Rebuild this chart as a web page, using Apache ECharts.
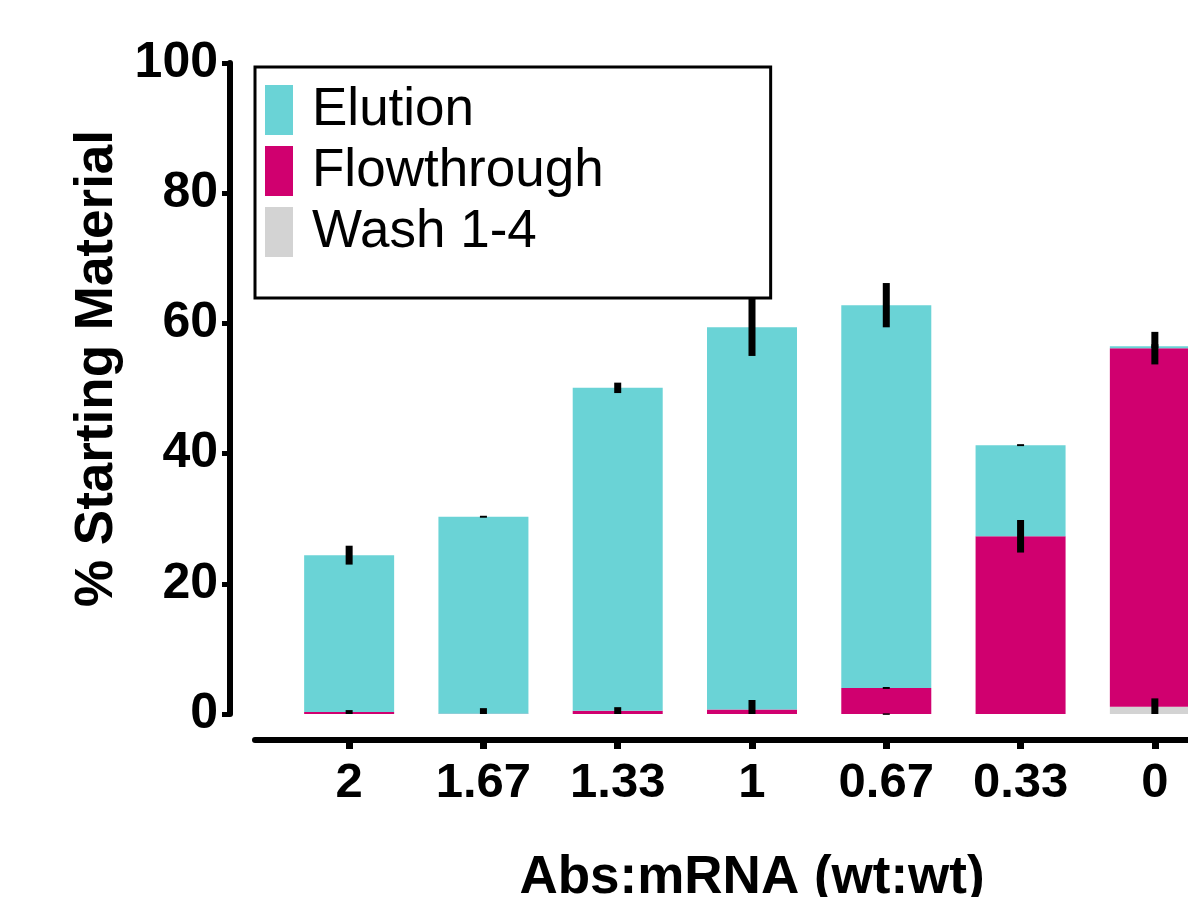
<!DOCTYPE html>
<html>
<head>
<meta charset="utf-8">
<script src="https://cdn.jsdelivr.net/npm/echarts@6/dist/echarts.min.js"></script>
<style>
html,body{margin:0;padding:0;background:#fff;}
#chart{width:1188px;height:897px;}
</style>
</head>
<body>
<div id="chart"></div>
<script>
const categories = ['2', '1.67', '1.33', '1', '0.67', '0.33', '0'];
const elution = [24.1, 30.25, 49.6, 58.7, 58.8, 14.0, 0.3];
const flowthrough = [0.3, 0.05, 0.5, 0.7, 4.0, 27.3, 55.1];
const wash = [0, 0, 0, 0, 0, 0, 1.1];
const elutionErr = [1.45, 0.15, 0.8, 4.4, 3.4, 0.15, 0.3];
const flowErr = [0.3, 0.85, 0.55, 1.45, 0.15, 2.5, 2.5];
const washErr = [0, 0, 0, 0, 0.1, 0, 1.3];
const yTicks = { min: 0, max: 100, interval: 20 };

const FONT = 'Liberation Sans, Arial, sans-serif';
const COL_ELU = '#6AD3D6';
const COL_FT = '#D0006F';
const COL_WASH = '#D3D3D3';

// error bar data: [categoryIndex, cumulative top, err]
const errData = [];
categories.forEach((c, i) => {
  const wTop = wash[i];
  const fTop = wTop + flowthrough[i];
  const eTop = fTop + elution[i];
  if (washErr[i] > 0) errData.push([i, wTop, washErr[i]]);
  if (flowErr[i] > 0) errData.push([i, fTop, flowErr[i]]);
  if (elutionErr[i] > 0) errData.push([i, eTop, elutionErr[i]]);
});

const chart = echarts.init(document.getElementById('chart'), null, { renderer: 'canvas' });
chart.setOption({
  animation: false,
  backgroundColor: '#fff',
  grid: [
    { left: 282, width: 940, top: 63, height: 651, outerBoundsMode: 'none', containLabel: false },
    { left: 255, width: 967, top: 63, height: 651, outerBoundsMode: 'none', containLabel: false }
  ],
  legend: {
    data: ['Elution', 'Flowthrough', 'Wash 1-4'],
    orient: 'vertical',
    left: 255,
    top: 67,
    icon: 'rect',
    itemWidth: 28,
    itemHeight: 50,
    itemGap: 7,
    padding: [16, 167, 39, 10],
    borderColor: '#000',
    borderWidth: 3,
    textStyle: { fontFamily: FONT, fontSize: 53, color: '#000', lineHeight: 50, padding: [4, 0, 0, 14] }
  },
  xAxis: [
    {
      type: 'category',
      gridIndex: 0,
      data: categories,
      offset: 26,
      axisLine: { show: true, onZero: false, lineStyle: { color: '#000', width: 6 } },
      axisTick: { show: true, alignWithLabel: true, length: 9, lineStyle: { color: '#000', width: 7 } },
      axisLabel: { fontFamily: FONT, fontSize: 49, fontWeight: 'bold', color: '#000', margin: 19 },
      name: 'Abs:mRNA (wt:wt)',
      nameLocation: 'middle',
      nameGap: 112,
      nameTextStyle: { fontFamily: FONT, fontSize: 53, fontWeight: 'bold', color: '#000' }
    },
    {
      type: 'category',
      gridIndex: 1,
      data: categories,
      offset: 26,
      axisLine: { show: true, onZero: false, lineStyle: { color: '#000', width: 6 } },
      axisTick: { show: false },
      axisLabel: { show: false }
    }
  ],
  yAxis: [
    {
      type: 'value',
      gridIndex: 0,
      min: yTicks.min,
      max: yTicks.max,
      interval: yTicks.interval,
      offset: 52,
      splitLine: { show: false },
      axisLine: { show: true, lineStyle: { color: '#000', width: 6 } },
      axisTick: { show: true, length: 8, lineStyle: { color: '#000', width: 5 } },
      axisLabel: { fontFamily: FONT, fontSize: 50, fontWeight: 'bold', color: '#000', margin: 12 },
      name: '% Starting Material',
      nameLocation: 'middle',
      nameGap: 92,
      nameRotate: 90,
      nameTextStyle: { fontFamily: FONT, fontSize: 53, fontWeight: 'bold', color: '#000', padding: [0, 0, 0, 40] }
    },
    {
      type: 'value',
      gridIndex: 1,
      min: 0, max: 100,
      show: false
    }
  ],
  series: [
    { name: 'Wash 1-4', type: 'bar', stack: 'total', data: wash, barWidth: 90, itemStyle: { color: COL_WASH } },
    { name: 'Flowthrough', type: 'bar', stack: 'total', data: flowthrough, barWidth: 90, itemStyle: { color: COL_FT } },
    { name: 'Elution', type: 'bar', stack: 'total', data: elution, barWidth: 90, itemStyle: { color: COL_ELU } },
    {
      name: 'err',
      type: 'custom',
      z: 10,
      data: errData,
      encode: { x: 0, y: 1 },
      renderItem: function (params, api) {
        const i = api.value(0);
        const top = api.value(1);
        const err = api.value(2);
        const lo = Math.max(0, top - err);
        const p1 = api.coord([i, top + err]);
        const p2 = api.coord([i, lo]);
        const w = 7;
        return {
          type: 'rect',
          shape: { x: p1[0] - w / 2, y: p1[1], width: w, height: Math.max(1.5, p2[1] - p1[1]) },
          style: { fill: '#000' }
        };
      }
    }
  ]
});
</script>
</body>
</html>
